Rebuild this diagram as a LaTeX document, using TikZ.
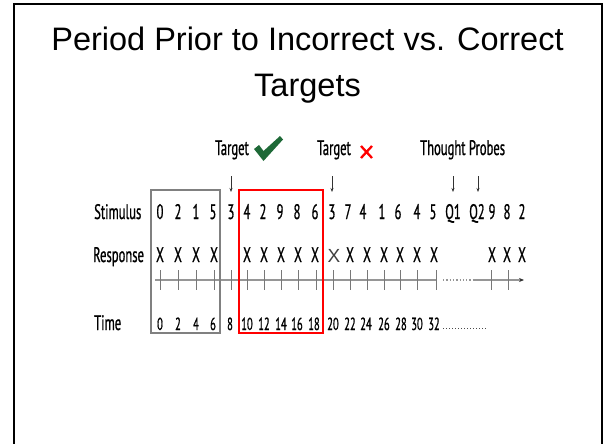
\documentclass[tikz,border=0pt]{standalone}
\usepackage{fontspec}
\setmainfont{Liberation Sans}
\newfontfamily\condfont[FakeStretch=0.6,FakeBold=0.8]{PT Sans}
\usetikzlibrary{arrows.meta}
\definecolor{boxgray}{RGB}{128,128,128}
\definecolor{linegray}{RGB}{150,150,150}
\definecolor{tickgray}{RGB}{120,120,120}
\definecolor{checkgreen}{RGB}{30,105,55}
\begin{document}
\begin{tikzpicture}[x=1pt,y=-1pt,
  lab/.style={font=\condfont\fontsize{21}{21}\selectfont, inner sep=0pt, anchor=base, text=black},
  rowlab/.style={lab, anchor=base west},
  smallnum/.style={font=\condfont\fontsize{17.5}{17.5}\selectfont, inner sep=0pt, anchor=base, text=black},
  title/.style={font=\fontsize{32.5}{45}\selectfont, inner sep=0pt, anchor=base, align=center},
  tickmark/.style={tickgray, line width=0.8pt},
  probearrow/.style={-{Stealth[length=4pt,width=3pt]}, line width=0.7pt, black!80},
  periodbox/.style={line width=1.8pt}]
\useasboundingbox (0,0) rectangle (603,444);
\begin{scope}
\clip (0,0) rectangle (603,444);
\draw[line width=2pt] (14,460) -- (14,4) -- (601.5,4) -- (601.5,460);
\end{scope}

% title
\node[title] (t1) at (307.5,51) {Period Prior to Incorrect vs. Correct};
\node[title] (t2) at (307.5,96) {Targets};

% row labels
\node[rowlab] (lstim) at (94,219) {Stimulus};
\node[rowlab] (lresp) at (93,262) {Response};
\node[rowlab] (ltime) at (94,330) {Time};

% stimulus digits
\foreach \x/\t [count=\i] in {160/0,178/2,196/1,213/5,231/3,247/4,263/2,280/9,297/8,315/6,332/3,348/7,363/4,382/1,398/6,417/4,433/5,453/Q1,477/Q2,492/9,507/8,522/2}
  \node[lab] (s\i) at (\x,219) {\t};

% responses
\foreach \x [count=\i] in {160,178,196,214,247,264,281,298,315,350,367,384,400,417,434,492,507,522}
  \node[lab] (r\i) at (\x,262) {X};
\node[font=\fontsize{19}{19}\selectfont, inner sep=0pt, anchor=base, text=black!75] (rx) at (334,262) {X};

% timeline
\coordinate (l0) at (155,280);
\coordinate (l1) at (437,280);
\coordinate (l2) at (443,280);
\coordinate (l3) at (473,280);
\coordinate (l4) at (524,280);
\draw[linegray, line width=1.3pt] (l0) -- (l1);
\draw[linegray, line width=1.3pt, dotted] (l2) -- (l3);
\draw[linegray, line width=1.3pt, -{Stealth[length=5pt,width=4pt,black!80]}] (l3) -- (l4);
\foreach \x in {160,178,196,214,231,247,264,281,298,316,333,350,367,384,400,417,436,491,508}
  \draw[tickmark] (\x,270) -- (\x,290);

% time labels
\foreach \x/\t [count=\i] in {160/0,178/2,196/4,213/6,230/8,247/10,264/12,281/14,297/16,314/18,333/20,350/22,366/24,384/26,401/28,417/30,434/32}
  \node[smallnum] (t\i) at (\x,330) {\t};
\coordinate (d0) at (443,328);
\coordinate (d1) at (488,328);
\draw[black!70, line width=1pt, dotted] (d0) -- (d1);

% boxes
\draw[boxgray, periodbox] (150.7,190) rectangle (220,333);
\draw[red, periodbox] (239.3,190) -- (323.3,190) -- (323.3,333) -- (239.3,333) -- cycle;

% top labels
\node[lab, anchor=base west] (tg1) at (215,155) {Target};
\node[lab, anchor=base west] (tg2) at (317,155) {Target};
\node[lab, anchor=base west] (tp) at (420,155) {Thought Probes};
\fill[checkgreen] (254,149) -- (259,145) -- (263.5,151) -- (280,136) -- (283,139.5) -- (263.5,161) -- cycle;
\draw[red, line width=2.3pt] (361,146) -- (372,158) (361,158) -- (372,146);

% probe arrows
\foreach \x [count=\i] in {231,332,453,478} {
  \coordinate (pa\i) at (\x,176);
  \coordinate (pb\i) at (\x,192);
  \draw[probearrow] (pa\i) -- (pb\i);
}
\end{tikzpicture}
\end{document}
